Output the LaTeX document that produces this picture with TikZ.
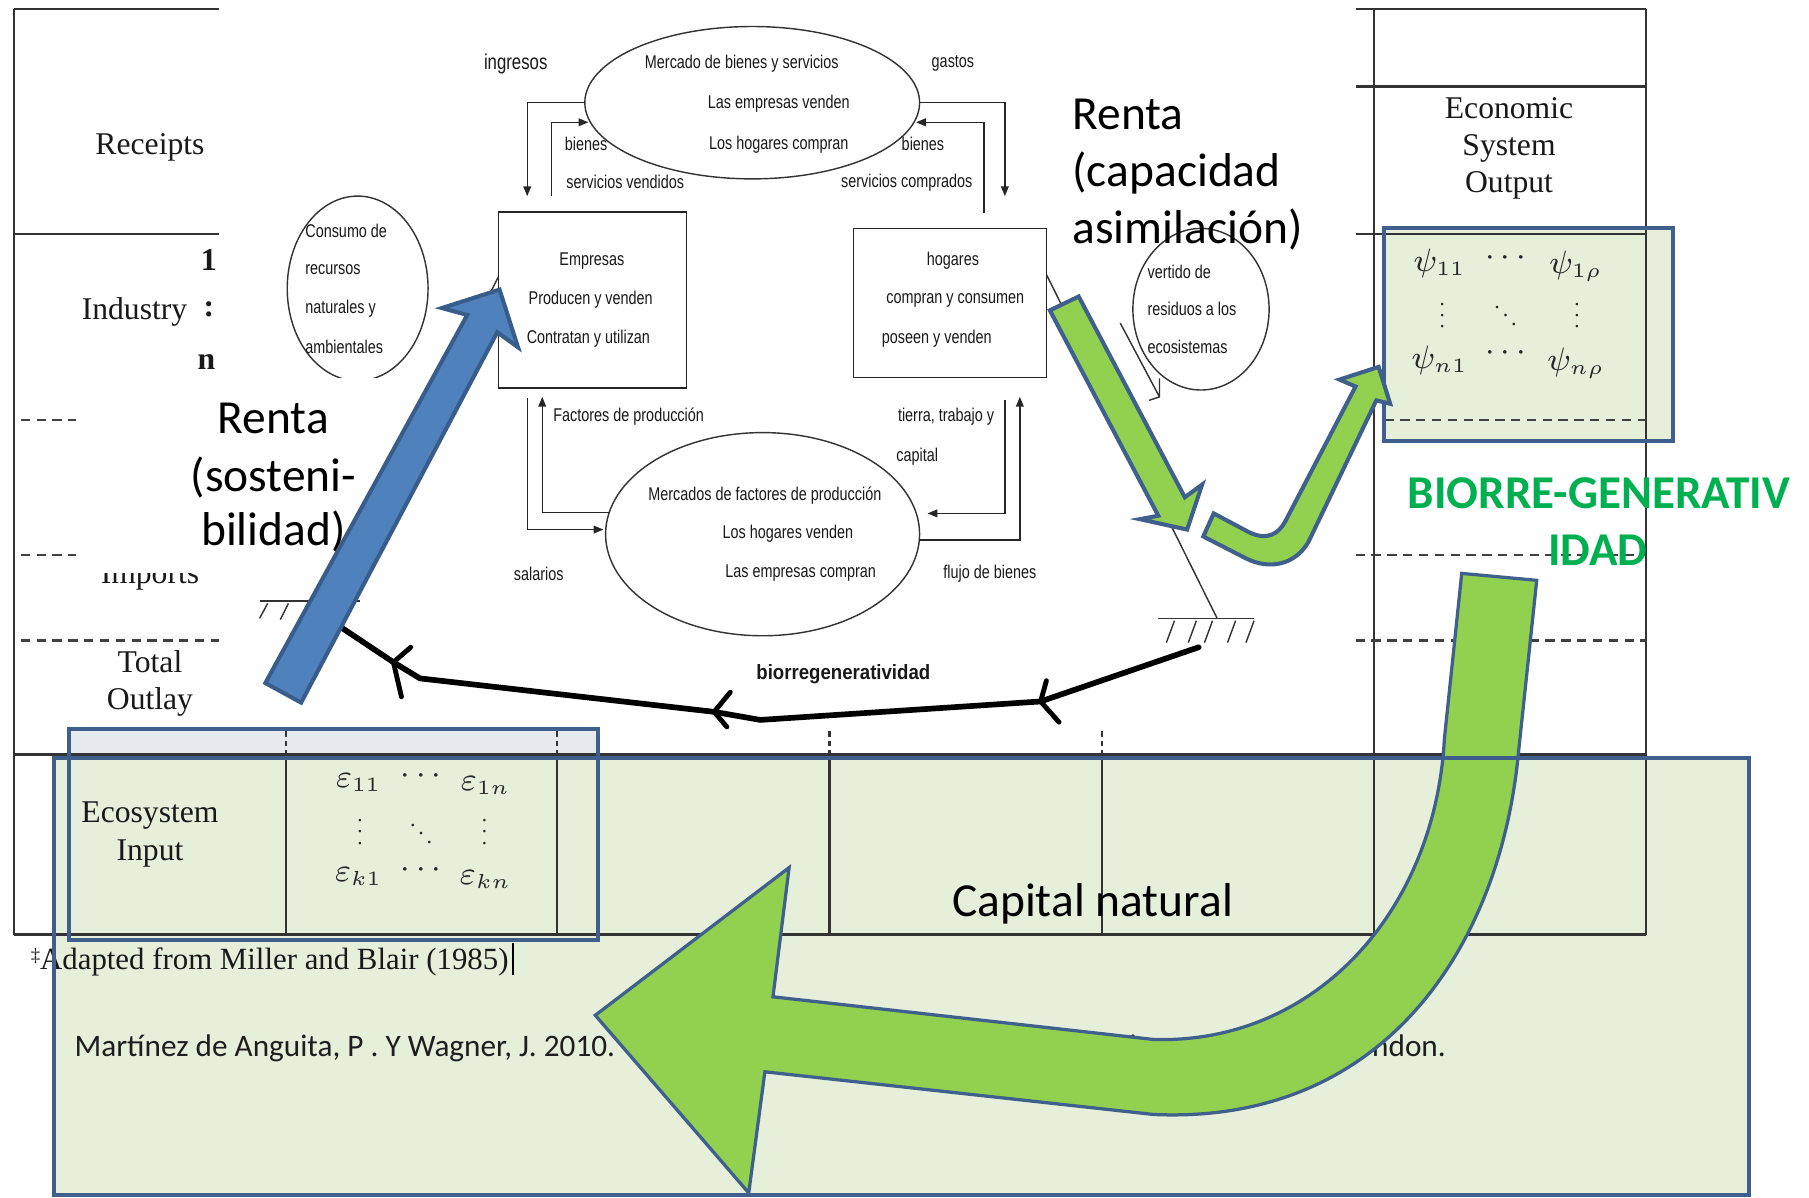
\documentclass[tikz,border=0pt]{standalone}
\usepackage{fontspec}
\usetikzlibrary{arrows.meta,shapes.geometric}
\setmainfont{Liberation Serif}
\newfontfamily\flowsans[FakeStretch=0.78]{Liberation Sans}
\newfontfamily\flowsansb[FakeStretch=0.9]{Liberation Sans}
\newfontfamily\calibrifont{Carlito}

\definecolor{boxfill}{HTML}{E6EFD9}
\definecolor{stripfill}{HTML}{E4EAEE}
\definecolor{boxline}{HTML}{3F5F8C}
\definecolor{arrowgreen}{HTML}{92D050}
\definecolor{arrowblue}{HTML}{4F81BD}
\definecolor{arrowblueline}{HTML}{385D8A}
\definecolor{biogreen}{HTML}{00B050}
\definecolor{inktext}{HTML}{1E1E1E}

\newcommand\tabsize{\fontsize{7.8}{9.4}\selectfont}
\newcommand\mathsize{\fontsize{7.6}{9}\selectfont}
\newcommand\flowsize{\flowsans\fontsize{4.55}{5.5}\selectfont}
\newcommand\flowsizeL{\flowsans\fontsize{5.3}{6.4}\selectfont}
\newcommand\biosize{\flowsansb\bfseries\fontsize{5.1}{6.2}\selectfont}
\newcommand\bigsize{\calibrifont\fontsize{11.7}{14}\selectfont}
\newcommand\citesize{\calibrifont\fontsize{7.7}{9.2}\selectfont}
\newcommand\greensize{\calibrifont\bfseries\fontsize{11.6}{14}\selectfont}
% compact vertical and diagonal ellipses for the matrices
\newcommand\vdotsm{\scalebox{0.68}{$\vdots$}}
\newcommand\ddotsm{\scalebox{0.72}{$\ddots$}}

\begin{document}
\begin{tikzpicture}[x=0.01cm,y=-0.01cm,
  tabline/.style={line width=0.55pt, draw=black!80},
  tabdash/.style={line width=0.65pt, draw=black!75, dash pattern=on 2.3pt off 1.6pt},
  tickline/.style={line width=0.5pt, draw=black!80, dash pattern=on 1.4pt off 0.9pt},
  flowline/.style={line width=0.35pt, draw=black!85},
  flowarrow/.style={flowline, -{Triangle[length=2.4pt,width=1.9pt]}},
  flowbox/.style={draw=black!85, line width=0.4pt, rectangle, inner sep=0pt, outer sep=0pt},
  flowoval/.style={draw=black!80, line width=0.35pt, ellipse, inner sep=0pt, outer sep=0pt},
  tabtext/.style={font=\tabsize, inner sep=0pt, text=black!90},
  mathtext/.style={font=\mathsize, inner sep=0pt, text=black!85},
  flowtext/.style={font=\flowsize, inner sep=0pt, text=black!90},
  bigtext/.style={font=\bigsize, inner sep=0pt, text=black},
  frameline/.style={draw=boxline, line width=1pt},
  groundline/.style={line width=0.35pt, draw=black!80},
  biopath/.style={line width=1.4pt, draw=black, line cap=round, line join=round},
  blockarrow/.style={draw=boxline, line width=1pt, fill=arrowgreen, line join=miter},
]
\useasboundingbox (0,0) rectangle (1568,1038);
\fill[white] (0,0) rectangle (1568,1038);

% ---------- shaded regions of the accounting matrix ----------
\fill[boxfill] (47,657) rectangle (1516,1036);
\fill[boxfill] (60,657) rectangle (518,815);
\fill[stripfill] (60,632) rectangle (518,657);
\fill[boxfill] (1200,198) rectangle (1450,382);

% ---------- accounting matrix: rules ----------
\draw[tabline] (12,8) -- (12,810);
\draw[tabline] (12,8) -- (190,8);
\draw[tabline] (12,203) -- (190,203);
\draw[tabdash] (18,364) -- (66,364);
\draw[tabdash] (18,481) -- (66,481);
\draw[tabdash] (18,555) -- (190,555);
\draw[tabline] (12,654) -- (1427,654);
\draw[tabline] (12,810) -- (1427,810);
\foreach \cx in {248,483,719,955} {
  \draw[tabline] (\cx,654) -- (\cx,810);
  \draw[tickline] (\cx,634) -- (\cx,654);
}
\draw[tabline] (1191,8) -- (1191,810);
\draw[tabline] (1427,8) -- (1427,810);
\draw[tabline] (1175,8) -- (1427,8);
\draw[tabline] (1175,75) -- (1427,75);
\draw[tabline] (1175,203) -- (1427,203);
\draw[tabdash] (1200,364) -- (1427,364);
\draw[tabdash] (1175,481) -- (1427,481);
\draw[tabdash] (1175,555) -- (1427,555);

% ---------- accounting matrix: labels ----------
\node[tabtext, anchor=mid] (receipts) at (130,126) {Receipts};
\node[tabtext, anchor=mid east] (industry) at (163,269) {Industry};
\node[tabtext, anchor=mid, font=\tabsize\bfseries] (ind1) at (181,226) {1};
\node[tabtext, anchor=mid, font=\tabsize\bfseries] (inddots) at (181,266) {:};
\node[tabtext, anchor=mid, font=\tabsize\bfseries] (indn) at (179,312) {n};
\node[tabtext, anchor=mid] (imports) at (130,498) {Imports};
\node[tabtext, anchor=mid] (total) at (130,575) {Total};
\node[tabtext, anchor=mid] (outlay) at (130,607) {Outlay};
\node[tabtext, anchor=mid] (econ1) at (1308,95) {Economic};
\node[tabtext, anchor=mid] (econ2) at (1308,127) {System};
\node[tabtext, anchor=mid] (econ3) at (1308,159) {Output};
\node[tabtext, anchor=mid] (eco1) at (130,705) {Ecosystem};
\node[tabtext, anchor=mid] (eco2) at (130,738) {Input};

\node[mathtext] (psiA) at (1248,228) {$\psi_{11}$};
\node[mathtext] (psiB) at (1305,224) {$\cdots$};
\node[mathtext] (psiC) at (1366,231) {$\psi_{1\rho}$};
\node[mathtext] (psiD) at (1250,266) {\vdotsm};
\node[mathtext] (psiE) at (1305,266) {\ddotsm};
\node[mathtext] (psiF) at (1367,266) {\vdotsm};
\node[mathtext] (psiG) at (1248,312) {$\psi_{n1}$};
\node[mathtext] (psiH) at (1305,306) {$\cdots$};
\node[mathtext] (psiI) at (1366,315) {$\psi_{n\rho}$};

\node[mathtext] (epsA) at (311,678) {$\varepsilon_{11}$};
\node[mathtext] (epsB) at (365,673) {$\cdots$};
\node[mathtext] (epsC) at (421,681) {$\varepsilon_{1n}$};
\node[mathtext] (epsD) at (312,714) {\vdotsm};
\node[mathtext] (epsE) at (365,715) {\ddotsm};
\node[mathtext] (epsF) at (420,714) {\vdotsm};
\node[mathtext] (epsG) at (311,760) {$\varepsilon_{k1}$};
\node[mathtext] (epsH) at (365,754) {$\cdots$};
\node[mathtext] (epsI) at (421,762) {$\varepsilon_{kn}$};

\node[tabtext, anchor=mid west, font=\fontsize{7.6}{9}\selectfont] (source) at (26,832)
  {\raisebox{0.55ex}{\fontsize{4.6}{5}\selectfont ‡}Adapted from Miller and Blair (1985)};
\draw[line width=0.6pt] (source.east |- 0,817) ++(3,0) -- ++(0,28);

% ---------- circular flow diagram ----------
\node[flowoval, minimum width=2.9cm, minimum height=1.32cm] (mkt) at (652,89) {};
\node[flowoval, minimum width=2.72cm, minimum height=1.76cm] (fmkt) at (661,463) {};
\node[flowbox, minimum width=1.63cm, minimum height=1.52cm] (emp) at (513.5,260) {};
\node[flowbox, minimum width=1.67cm, minimum height=1.29cm] (hog) at (823.5,262.5) {};
\node[flowoval, minimum width=1.22cm, minimum height=1.6cm] (consumo) at (310,250) {};
\node[flowoval, minimum width=1.18cm, minimum height=1.4cm] (vertido) at (1041,268) {};

\node[flowtext] (t1) at (643,55) {Mercado de bienes y servicios};
\node[flowtext] (t2) at (675,90) {Las empresas venden};
\node[flowtext] (t3) at (675,125) {Los hogares compran};
\node[flowtext, font=\flowsizeL] (ingresos) at (447,55) {ingresos};
\node[flowtext] (gastos) at (826,55) {gastos};
\node[flowtext] (bienesL) at (508,125) {bienes};
\node[flowtext] (bienesR) at (800,125) {bienes};
\node[flowtext] (servL) at (542,158) {servicios vendidos};
\node[flowtext] (servR) at (786,158) {servicios comprados};
\node[flowtext] (emp1) at (513,226) {Empresas};
\node[flowtext] (emp2) at (512,260) {Producen y venden};
\node[flowtext] (emp3) at (510,294) {Contratan y utilizan};
\node[flowtext] (hog1) at (826,226) {hogares};
\node[flowtext] (hog2) at (828,260) {compran y consumen};
\node[flowtext] (hog3) at (812,294) {poseen y venden};
\node[flowtext, anchor=west] (factores) at (479,361) {Factores de producción};
\node[flowtext] (tierra) at (820,361) {tierra, trabajo y};
\node[flowtext] (capital) at (795,396) {capital};
\node[flowtext] (f1) at (663,430) {Mercados de factores de producción};
\node[flowtext] (f2) at (683,463) {Los hogares venden};
\node[flowtext] (f3) at (694,497) {Las empresas compran};
\node[flowtext] (salarios) at (467,497) {salarios};
\node[flowtext] (flujo) at (858,497) {flujo de bienes};
\node[flowtext, anchor=west] (c1) at (264,200) {Consumo de};
\node[flowtext, anchor=west] (c2) at (264,234) {recursos};
\node[flowtext, anchor=west] (c3) at (264,268) {naturales y};
\node[flowtext, anchor=west] (c4) at (264,301) {ambientales};
\node[flowtext, anchor=west] (v1) at (994,236) {vertido de};
\node[flowtext, anchor=west] (v2) at (994,268) {residuos a los};
\node[flowtext, anchor=west] (v3) at (994,301) {ecosistemas};
\node[flowtext, font=\biosize] (bio) at (731,584) {biorregeneratividad};

% connector end points
\coordinate (ingEnd) at (457,170);
\coordinate (venStart) at (478,170);
\coordinate (venEnd) at (510,106);
\coordinate (gasEnd) at (871,170);
\coordinate (comStart) at (853,185);
\coordinate (comEnd) at (794,106);
\coordinate (salStart) at (457,345);
\coordinate (salEnd) at (523,459);
\coordinate (facStart) at (528,444);
\coordinate (facEnd) at (470,344);
\coordinate (tieStart) at (871,347);
\coordinate (tieEnd) at (804,445);
\coordinate (fluStart) at (797,468);
\coordinate (fluEnd) at (884,344);

\draw[flowarrow] (mkt.west) -| (ingEnd);
\draw[flowarrow] (venStart) |- (venEnd);
\draw[flowarrow] (mkt.east) -| (gasEnd);
\draw[flowarrow] (comStart) |- (comEnd);
\draw[flowarrow] (salStart) |- (salEnd);
\draw[flowarrow] (facStart) -| (facEnd);
\draw[flowarrow] (tieStart) |- (tieEnd);
\draw[flowarrow] (fluStart) -| (fluEnd);

% links to the ground (ecosystem) symbols
\coordinate (groundL) at (290,521);
\coordinate (groundR) at (1055,536);
\draw[groundline] (emp.west |- 0,240) -- (groundL);
\draw[groundline] (hog.east |- 0,238) -- (groundR);
\draw[groundline] (225,521) -- (312,521);
\draw[groundline] (232,523) -- (225,536) (250,523) -- (243,537);
\draw[groundline] (1004,536) -- (1087,536);
\foreach \hx in {1018,1037,1051,1071,1087} \draw[groundline] (\hx,538) -- (\hx-7,557);
\draw[groundline] (971,280) -- (1005,344) (1005,328) -- (1005,344) -- (996,347);

% white label panel over the matrix margin
\fill[white] (68,328) rectangle (380,497);

% ---------- large annotations ----------
\node[bigtext, anchor=mid west] (rc1) at (929,104) {Renta};
\node[bigtext, anchor=mid west] (rc2) at (929,154) {(capacidad};
\node[bigtext, anchor=mid west] (rc3) at (929,203) {asimilación)};
\node[bigtext, anchor=mid] (rs1) at (237,368) {Renta};
\node[bigtext, anchor=mid] (rs2) at (237,418) {(sosteni-};
\node[bigtext, anchor=mid] (rs3) at (237,465) {bilidad)};
\node[bigtext, anchor=mid] (capnat) at (947,786) {Capital natural};
\node[inner sep=0pt, font=\greensize, text=biogreen, anchor=mid] (bg1) at (1386,433) {BIORRE-GENERATIV};
\node[inner sep=0pt, font=\greensize, text=biogreen, anchor=mid] (bg2) at (1385,482) {IDAD};
\node[inner sep=0pt, font=\citesize, text=inktext, anchor=mid west] (cite1) at (64,908) {Martínez de Anguita, P . Y Wagner, J. 2010.};
\node[inner sep=0pt, font=\citesize, text=inktext, anchor=mid east] (cite2) at (1254,908) {Applications. Routledge, London.};

% ---------- biorregeneratividad flow ----------
\coordinate (b0) at (1039,561);
\coordinate (b1) at (902,608);
\coordinate (b2) at (659,624);
\coordinate (b3) at (619,617);
\coordinate (b4) at (364,588);
\coordinate (b5) at (341,574);
\coordinate (b6) at (296,544);
\draw[biopath] (b0) -- (b1) -- (b2) -- (b3) -- (b4) -- (b5) -- (b6);
\draw[biopath, line width=1.2pt] (907,590) -- (b1) -- (918,626);
\draw[biopath, line width=1.2pt] (633,600) -- (b3) -- (630,630);
\draw[biopath, line width=1.2pt] (356,561) -- (b5) -- (348,604);

% ---------- block arrows ----------
\draw[draw=arrowblueline, line width=1pt, fill=arrowblue, line join=miter]
  (230,592) -- (405,273) -- (383,267) -- (433,251) -- (449,301) -- (431,288) -- (261,609) -- cycle;
\draw[blockarrow]
  (910,269) -- (1004,447) -- (988,450) -- (1029,459) -- (1042,420) -- (1027,431) -- (935,257) -- cycle;
\draw[frameline] (1200,198) rectangle (1450,382);
\draw[blockarrow]
  (1052,445) -- (1082,461) .. controls (1098,469) and (1108,463) .. (1114,452)
  -- (1175,335) -- (1161,329) -- (1195,318) -- (1205,350) -- (1193,347)
  -- (1134,470) .. controls (1122,490) and (1100,494) .. (1080,484) -- (1043,465) -- cycle;
\draw[blockarrow, line width=0.8pt]
  (1267,497) -- (1252,640) .. controls (1244,790) and (1140,905) .. (1000,901)
  -- (670,864) -- (684,752) -- (516,880) -- (649,1034) -- (663,929)
  -- (1000,966) .. controls (1200,975) and (1300,820) .. (1316,654) -- (1332,503) -- cycle;

% ---------- frames on top ----------
\draw[frameline] (60,632) rectangle (518,815);
\draw[frameline] (47,657) rectangle (1516,1036);
\end{tikzpicture}
\end{document}
